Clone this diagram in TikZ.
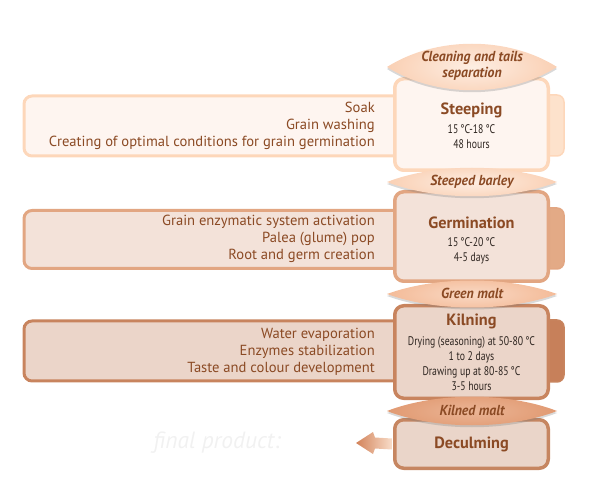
\documentclass[tikz,border=0pt]{standalone}
\usepackage{fontspec}
\setmainfont{PT Sans}
\newfontfamily\condf[FakeStretch=0.78]{PT Sans}
\newfontfamily\lensf[FakeStretch=0.95]{PT Sans}
\usetikzlibrary{shadows,calc}
\definecolor{txtbrown}{HTML}{8B4A24}
\definecolor{txtdark}{HTML}{2E2520}
\definecolor{sFill}{HTML}{FEF5F0}\definecolor{sDraw}{HTML}{FDD7BA}
\definecolor{gFill}{HTML}{F3E2D9}\definecolor{gDraw}{HTML}{E2A682}
\definecolor{kFill}{HTML}{EBD5C9}\definecolor{kDraw}{HTML}{C8845E}
\definecolor{dFill}{HTML}{EAD5C9}\definecolor{dDraw}{HTML}{C68661}
\definecolor{sTab}{HTML}{FDE2CC}\definecolor{gTab}{HTML}{E3AA86}\definecolor{kTab}{HTML}{C7805A}
\definecolor{lensA}{HTML}{FAD0B4}\definecolor{lensAi}{HTML}{FDEEE3}
\definecolor{lensB}{HTML}{F4BB98}\definecolor{lensBi}{HTML}{F9D9C5}
\definecolor{lensC}{HTML}{E19A72}\definecolor{lensCi}{HTML}{EBB596}
\definecolor{arrL}{HTML}{D3835A}\definecolor{arrR}{HTML}{F8DDC9}
\definecolor{ghost}{HTML}{F1F1F1}
\begin{document}
\begin{tikzpicture}[x=1pt,y=-1pt,
  sidebox/.style={draw,rounded corners=8pt,line width=3pt,inner sep=0pt},
  tabbox/.style={draw,rounded corners=7pt,line width=1.5pt,inner sep=0pt,minimum width=27pt},
  mainbox/.style={draw,rounded corners=9pt,line width=3.5pt,inner sep=0pt,minimum width=153.5pt,
    drop shadow={opacity=0.18,shadow xshift=0pt,shadow yshift=-1.5pt}},
  sidetext/.style={anchor=east,align=right,text=txtbrown,font=\fontsize{14.6}{17}\selectfont,inner sep=0pt},
  titletext/.style={text=txtbrown,font=\bfseries\fontsize{16.3}{18}\selectfont,inner sep=0pt},
  detailtext/.style={text=txtdark,align=center,font=\condf\fontsize{12.5}{15}\selectfont,inner sep=0pt},
  lenstext/.style={text=txtbrown,align=center,font=\lensf\bfseries\itshape\fontsize{14.5}{15.5}\selectfont,inner sep=0pt},
  lensshadow/.style={drop shadow={opacity=0.3,shadow xshift=0pt,shadow yshift=-2pt}}
]
\useasboundingbox (0,0) rectangle (600,494);

% side boxes
\node[sidebox,fill=sFill,draw=sDraw,minimum width=396pt,minimum height=60pt] (sL) at (222,126) {};
\node[sidebox,fill=gFill,draw=gDraw,minimum width=396pt,minimum height=58pt] (gL) at (222,239.5) {};
\node[sidebox,fill=kFill,draw=kDraw,minimum width=396pt,minimum height=60pt] (kL) at (222,351) {};
% tabs
\node[tabbox,fill=sTab,draw=sDraw,minimum height=61pt] (sT) at (550.5,125.5) {};
\node[tabbox,fill=gTab,draw=gDraw,minimum height=61pt] (gT) at (550.5,238.5) {};
\node[tabbox,fill=kTab,draw=kDraw,minimum height=62pt] (kT) at (550.5,351) {};
% side texts
\node[sidetext] (sLt) at (375,126) {Soak\\Grain washing\\Creating of optimal conditions for grain germination};
\node[sidetext] (gLt) at (375,239) {Grain enzymatic system activation\\Palea (glume) pop\\Root and germ creation};
\node[sidetext] (kLt) at (375,351.5) {Water evaporation\\Enzymes stabilization\\Taste and colour development};

% main boxes
\node[mainbox,fill=sFill,draw=sDraw,minimum height=91.5pt] (sM) at (471.5,124.5) {};
\node[mainbox,fill=gFill,draw=gDraw,minimum height=89.5pt] (gM) at (471.5,236.5) {};
\node[mainbox,fill=kFill,draw=kDraw,minimum height=92.5pt] (kM) at (471.5,352) {};
\node[mainbox,fill=dFill,draw=dDraw,minimum height=48.5pt] (dM) at (471.5,444) {};

% main texts
\node[titletext] (sMt) at (471.5,110) {Steeping};
\node[detailtext] (sMd) at (471.5,137) {15\,°C-18\,°C\\48 hours};
\node[titletext] (gMt) at (471.5,223) {Germination};
\node[detailtext] (gMd) at (471.5,250.5) {15\,°C-20\,°C\\4-5 days};
\node[titletext] (kMt) at (471.5,321) {Kilning};
\node[detailtext] (kMd) at (471.5,363.5) {Drying (seasoning) at 50-80\,°C\\1 to 2 days\\Drawing up at 80-85\,°C\\3-5 hours};
\node[titletext] (dMt) at (471.5,444) {Deculming};

% lenses
\coordinate (l1w) at (387,67); \coordinate (l1e) at (557,67);
\path[lensshadow,inner color=lensAi,outer color=lensA] (l1w) .. controls (436,36) and (508,36) .. (l1e) .. controls (508,98) and (436,98) .. cycle;
\node[lenstext] (l1t) at (472,66) {Cleaning and tails\\separation};

\coordinate (l2w) at (387,182); \coordinate (l2e) at (557,182);
\path[lensshadow,inner color=lensAi,outer color=lensA] (l2w) .. controls (436,163) and (508,163) .. (l2e) .. controls (508,201) and (436,201) .. cycle;
\node[lenstext] (l2t) at (472,182) {Steeped barley};

\coordinate (l3w) at (387,294); \coordinate (l3e) at (557,294);
\path[lensshadow,inner color=lensBi,outer color=lensB] (l3w) .. controls (436,276) and (508,276) .. (l3e) .. controls (508,312) and (436,312) .. cycle;
\node[lenstext] (l3t) at (472,293) {Green malt};

\coordinate (l4w) at (387,411); \coordinate (l4e) at (557,411);
\path[lensshadow,inner color=lensCi,outer color=lensC] (l4w) .. controls (436,392) and (508,392) .. (l4e) .. controls (508,430) and (436,430) .. cycle;
\node[lenstext] (l4t) at (472,410) {Kilned malt};

% final arrow
\coordinate (fp) at (356,443);
\path[left color=arrL,right color=arrR]
  ($(dM.west)+(-1,-5.5)$) -- ($(fp)+(19,-5.5)$) -- ($(fp)+(17,-11)$) -- (fp)
  -- ($(fp)+(17,11)$) -- ($(fp)+(19,5.5)$) -- ($(dM.west)+(-1,5.5)$) -- cycle;
\node[text=ghost,font=\itshape\fontsize{23.5}{26}\selectfont,inner sep=0pt] (fpt) at (217,443) {final product:};
\end{tikzpicture}
\end{document}
